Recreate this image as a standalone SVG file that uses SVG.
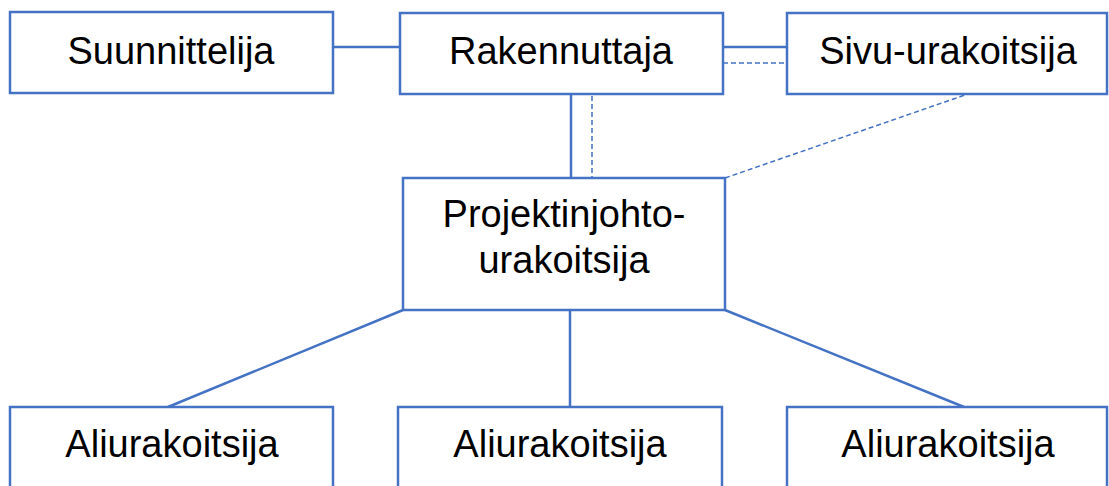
<svg xmlns="http://www.w3.org/2000/svg" width="1109" height="486" viewBox="0 0 1109 486">
<style>
.box{fill:#fff;stroke:#4472C4;stroke-width:2.5}
.ln{stroke:#4472C4;stroke-width:2.5;fill:none}
.ds{stroke:#4472C4;stroke-width:1.5;fill:none;stroke-dasharray:5,3}
.t{font-family:"Liberation Sans",Arial,sans-serif;font-size:38px;fill:#000;text-anchor:middle}
</style>
<rect width="1109" height="486" fill="#fff"/>
<g id="connectors">
<line class="ln" x1="333" y1="47" x2="400" y2="47"/>
<line class="ln" x1="723" y1="47" x2="787" y2="47"/>
<line class="ds" x1="723" y1="63" x2="787" y2="63"/>
<line class="ln" x1="571" y1="93" x2="571" y2="178"/>
<line class="ds" x1="592" y1="96" x2="592" y2="178"/>
<line class="ds" x1="725" y1="178" x2="965" y2="95"/>
<line class="ln" x1="403" y1="310" x2="168" y2="407"/>
<line class="ln" x1="570" y1="310" x2="570" y2="407"/>
<line class="ln" x1="725" y1="310" x2="964" y2="407"/>
</g>
<g id="suunnittelija">
<rect class="box" x="10" y="12" width="323" height="81"/>
<text class="t" x="171" y="64">Suunnittelija</text>
</g>
<g id="rakennuttaja">
<rect class="box" x="400" y="13" width="323" height="81"/>
<text class="t" x="561" y="64">Rakennuttaja</text>
</g>
<g id="sivu-urakoitsija">
<rect class="box" x="787" y="13" width="320" height="81"/>
<text class="t" x="948" y="64">Sivu-urakoitsija</text>
</g>
<g id="projektinjohto">
<rect class="box" x="403" y="178" width="322" height="132"/>
<text class="t" x="564" y="227">Projektinjohto-</text>
<text class="t" x="564" y="273">urakoitsija</text>
</g>
<g id="ali1">
<rect class="box" x="10" y="407" width="323" height="100"/>
<text class="t" x="172" y="457">Aliurakoitsija</text>
</g>
<g id="ali2">
<rect class="box" x="398" y="407" width="324" height="100"/>
<text class="t" x="560" y="457">Aliurakoitsija</text>
</g>
<g id="ali3">
<rect class="box" x="787" y="407" width="320" height="100"/>
<text class="t" x="948" y="457">Aliurakoitsija</text>
</g>
</svg>
